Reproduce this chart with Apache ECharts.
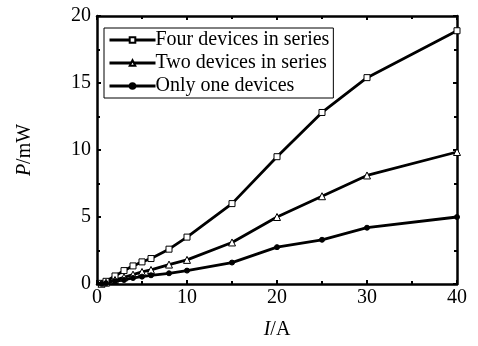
<!DOCTYPE html>
<html><head><meta charset="utf-8">
<script src="https://cdn.jsdelivr.net/npm/echarts@6/dist/echarts.min.js"></script>
<style>html,body{margin:0;padding:0;background:#fff}#c{width:478px;height:346px}</style>
</head><body><div id="c"></div>
<script>
const fourX = [0.5, 1, 2, 3, 4, 5, 6, 8, 10, 15, 20, 25, 30, 40];
const fourY = [0.05, 0.2, 0.6, 1.0, 1.35, 1.65, 1.9, 2.6, 3.5, 6.0, 9.5, 12.8, 15.4, 18.9];
const twoX = [0.5, 1, 2, 3, 4, 5, 6, 8, 10, 15, 20, 25, 30, 40];
const twoY = [0.02, 0.1, 0.3, 0.5, 0.7, 0.9, 1.05, 1.45, 1.8, 3.1, 5.0, 6.55, 8.1, 9.85];
const oneX = [0.5, 1, 2, 3, 4, 5, 6, 8, 10, 15, 20, 25, 30, 40];
const oneY = [0.01, 0.05, 0.2, 0.3, 0.45, 0.55, 0.65, 0.8, 1.0, 1.6, 2.75, 3.3, 4.2, 5.0];
const names = ['Four devices in series', 'Two devices in series', 'Only one devices'];
const xTicks = [0, 10, 20, 30, 40];
const yTicks = [0, 5, 10, 15, 20];

const font = 'Liberation Serif, Times New Roman, serif';
const fs = 20;
const chart = echarts.init(document.getElementById('c'));
function zip(a, b) { return a.map((v, i) => [v, b[i]]); }
function ser(name, xs, ys, symbol, fill, size) {
  return {
    name, type: 'line', data: zip(xs, ys), symbol, symbolSize: size,
    lineStyle: { color: '#000', width: 2.8 },
    itemStyle: { color: fill, borderColor: '#000', borderWidth: 1 },
    emphasis: { disabled: true }, z: 3
  };
}
const axisCommon = {
  axisLine: { show: true, onZero: false, lineStyle: { color: '#000', width: 2.5 } },
  axisTick: { show: true, inside: true, length: 4, lineStyle: { color: '#000', width: 2 } },
  minorTick: { show: true, splitNumber: 2, length: 3, lineStyle: { color: '#000', width: 2 } },
  splitLine: { show: false },
};
chart.setOption({
  animation: false,
  backgroundColor: '#fff',
  grid: { left: 97, right: 21, top: 16, bottom: 62 },
  legend: {
    orient: 'vertical', left: 104, top: 28,
    data: names,
    itemWidth: 46, itemHeight: 7, itemGap: 3,
    lineStyle: { width: 3 },
    borderColor: '#000', borderWidth: 1, padding: [2, 4, 2, 4],
    textStyle: { fontFamily: font, fontSize: fs, color: '#000', padding: [0, 0, 0, -5] },
    backgroundColor: '#fff'
  },
  xAxis: [{
    type: 'value', min: 0, max: 40, interval: 10,
    ...axisCommon,
    axisLabel: { fontFamily: font, fontSize: fs, color: '#000', margin: 4 },
    name: '{i|I}/A', nameLocation: 'middle', nameGap: 36,
    nameTextStyle: { fontFamily: font, fontSize: fs, color: '#000', rich: { i: { fontStyle: 'italic', fontFamily: font, fontSize: fs } } }
  }, {
    type: 'value', min: 0, max: 40, interval: 10, position: 'top',
    ...axisCommon, axisLabel: { show: false }
  }],
  yAxis: [{
    type: 'value', min: 0, max: 20, interval: 5,
    ...axisCommon,
    axisLabel: { fontFamily: font, fontSize: fs, color: '#000', margin: 6 },
    name: '{i|P}/mW', nameLocation: 'middle', nameGap: 62,
    nameTextStyle: { fontFamily: font, fontSize: fs, color: '#000', rich: { i: { fontStyle: 'italic', fontFamily: font, fontSize: fs } } }
  }, {
    type: 'value', min: 0, max: 20, interval: 5, position: 'right',
    ...axisCommon, axisLabel: { show: false }
  }],
  series: [
    ser(names[0], fourX, fourY, 'rect', '#fff', 6),
    ser(names[1], twoX, twoY, 'triangle', '#fff', 7),
    ser(names[2], oneX, oneY, 'circle', '#000', 5)
  ]
});
</script></body></html>
